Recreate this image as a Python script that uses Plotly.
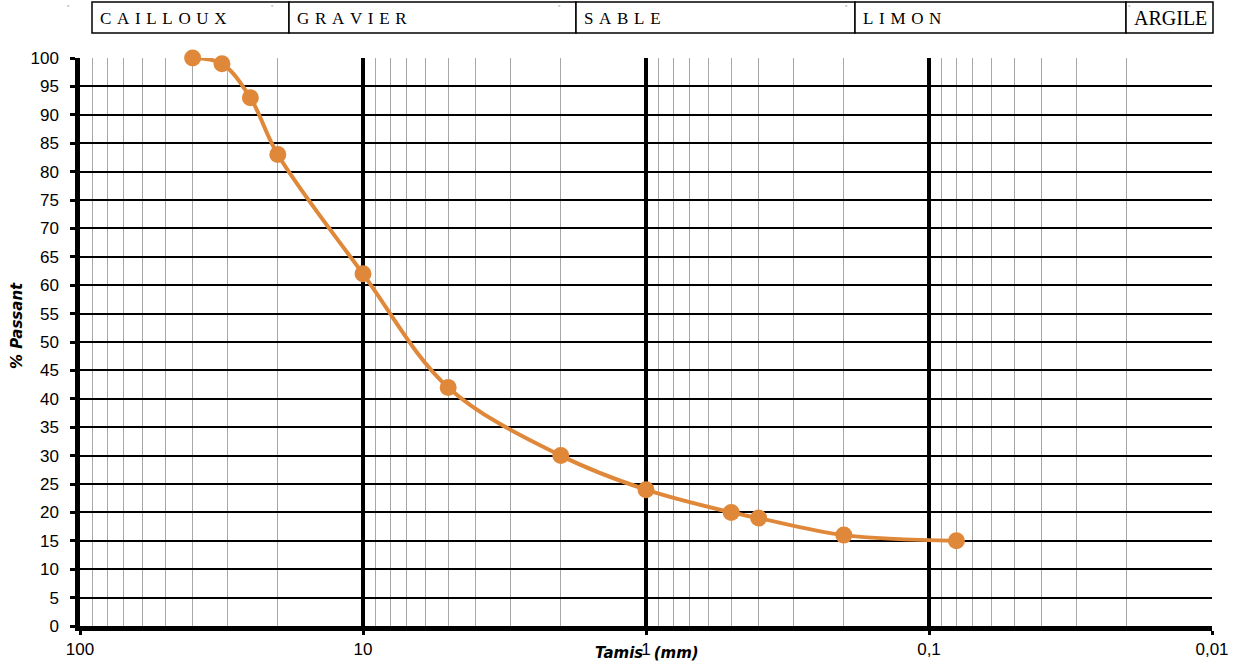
import plotly.graph_objects as go

# Data
sieve_mm = [40, 31.5, 25, 20, 10, 5, 2, 1, 0.5, 0.4, 0.2, 0.08]
passing_pct = [100, 99, 93, 83, 62, 42, 30, 24, 20, 19, 16, 15]

x_tickvals = [100, 10, 1, 0.1, 0.01]
x_ticktext = ["100", "10", "1", "0,1", "0,01"]
y_tickvals = list(range(0, 101, 5))

bands = ["CAILLOUX", "GRAVIER", "SABLE", "LIMON", "ARGILE"]
band_spaced = [True, True, True, True, False]
band_edges_px = [92, 289, 576, 855, 1126, 1213]

W, H = 1235, 669
PLOT_L, PLOT_R, PLOT_T, PLOT_B = 80, 1212, 58, 626
L, R, T, B = PLOT_L, W - PLOT_R, PLOT_T, H - PLOT_B
pw, ph = PLOT_R - PLOT_L, PLOT_B - PLOT_T

def px2x(px):
    return (px - PLOT_L) / pw

def py2y(py):
    return (PLOT_B - py) / ph

orange = "#E0883A"

fig = go.Figure()
fig.add_trace(go.Scatter(
    x=sieve_mm, y=passing_pct, mode="lines+markers",
    line=dict(color=orange, width=4, shape="spline", smoothing=1.0),
    marker=dict(color=orange, size=17),
    showlegend=False, cliponaxis=False,
))

shapes = []
annotations = []
serif = "Liberation Serif, Times New Roman, serif"
for i, name in enumerate(bands):
    x0, x1 = px2x(band_edges_px[i]), px2x(band_edges_px[i + 1])
    shapes.append(dict(type="rect", xref="paper", yref="paper",
                       x0=x0, x1=x1, y0=py2y(33), y1=py2y(2),
                       line=dict(color="black", width=1.5), fillcolor="white"))
    label = "\u2004".join(list(name)) if band_spaced[i] else name
    annotations.append(dict(text=label, xref="paper", yref="paper",
                            x=x0 + 6 / pw, y=py2y(18), xanchor="left", yanchor="middle",
                            showarrow=False,
                            font=dict(family=serif, size=17 if band_spaced[i] else 20,
                                      color="black")))

# tiny corner markers
for mx, my in [(68, 6), (272, 6), (559, 6), (846, 6), (1129, 6)]:
    annotations.append(dict(text="\u25ab", xref="paper", yref="paper",
                            x=px2x(mx), y=py2y(my), xanchor="center", yanchor="middle",
                            showarrow=False, font=dict(size=7, color="#777777")))

annotations.append(dict(text="<b><i>% Passant</i></b>", xref="paper", yref="paper",
                        x=px2x(17), y=py2y(326), xanchor="center", yanchor="middle",
                        textangle=-90, showarrow=False,
                        font=dict(family="DejaVu Sans, sans-serif", size=15, color="black")))
annotations.append(dict(text="<b><i>Tamis&nbsp;&nbsp;(mm)</i></b>", xref="paper", yref="paper",
                        x=px2x(647), y=py2y(653), xanchor="center", yanchor="middle",
                        showarrow=False,
                        font=dict(family="DejaVu Sans, sans-serif", size=15, color="black")))

tickfont = dict(family="Liberation Sans, Arial, sans-serif", size=17, color="black")

fig.update_layout(
    width=W, height=H,
    margin=dict(l=L, r=R, t=T, b=B, autoexpand=False),
    plot_bgcolor="white", paper_bgcolor="white",
    shapes=shapes, annotations=annotations,
    xaxis=dict(
        type="log", range=[2, -2], autorange=False,
        tickvals=x_tickvals, ticktext=x_ticktext, tickfont=tickfont,
        showgrid=True, gridcolor="black", gridwidth=3.5,
        showline=True, linecolor="black", linewidth=5,
        ticks="outside", ticklen=4, tickwidth=3, tickcolor="black",
        ticklabelstandoff=0,
        minor=dict(dtick="D1", showgrid=True, gridcolor="#A8A8A8", gridwidth=1, ticks=""),
        zeroline=False,
    ),
    yaxis=dict(
        range=[0, 100], autorange=False,
        tickvals=y_tickvals, tickfont=tickfont,
        showgrid=True, gridcolor="black", gridwidth=2,
        showline=True, linecolor="black", linewidth=4.5,
        ticks="outside", ticklen=5, tickwidth=3, tickcolor="black",
        ticklabelstandoff=8,
        zeroline=False,
    ),
)

fig.write_html("out.html", config={"displayModeBar": False},
               post_script="document.body.style.margin='0px';")
